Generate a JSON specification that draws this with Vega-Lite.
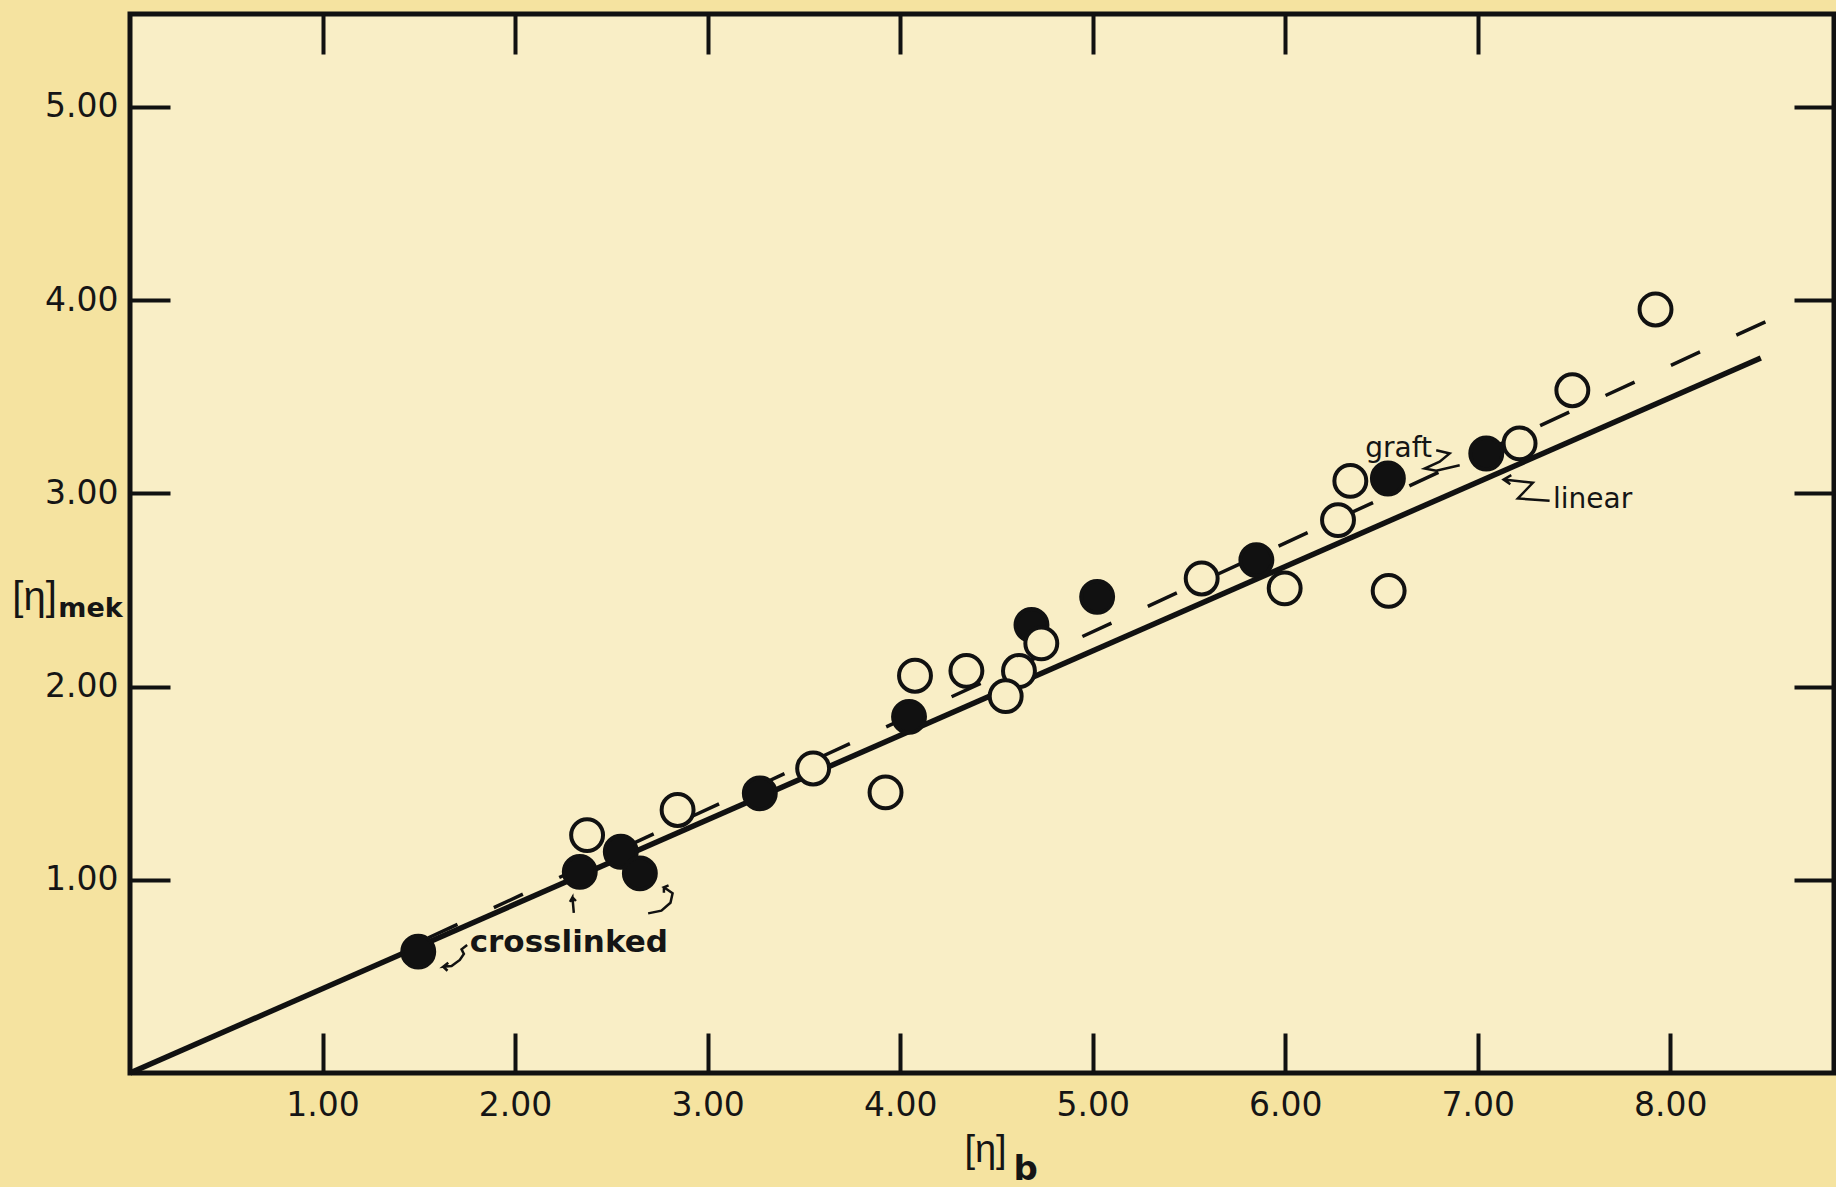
{
  "$schema": "https://vega.github.io/schema/vega-lite/v6.json",
  "width": 1704,
  "height": 1059,
  "autosize": "none",
  "padding": {"left": 130, "top": 14, "right": 2, "bottom": 114},
  "background": "#f5e3a0",
  "config": {
    "view": {"fill": "#f9eec6", "stroke": "#111111", "strokeWidth": 5},
    "axis": {
      "domain": false,
      "grid": false,
      "tickColor": "#111111",
      "tickWidth": 4,
      "tickSize": -40,
      "labelColor": "#151515",
      "labelFont": "DejaVu Sans",
      "labelFontSize": 33,
      "titleColor": "#151515",
      "titleFont": "Liberation Sans",
      "titleFontSize": 40,
      "titleFontWeight": "normal"
    }
  },
  "datasets": {
    "solid": [{"x": 0, "y": 0}, {"x": 8.47, "y": 3.70}],
    "dashed": [{"x": 1.55, "y": 0.70}, {"x": 8.5, "y": 3.89}],
    "points": [
      {"x": 2.374, "y": 1.231, "type": "open"},
      {"x": 2.844, "y": 1.361, "type": "open"},
      {"x": 3.548, "y": 1.576, "type": "open"},
      {"x": 3.924, "y": 1.452, "type": "open"},
      {"x": 4.077, "y": 2.056, "type": "open"},
      {"x": 4.344, "y": 2.081, "type": "open"},
      {"x": 4.617, "y": 2.080, "type": "open"},
      {"x": 4.548, "y": 1.950, "type": "open"},
      {"x": 5.566, "y": 2.559, "type": "open"},
      {"x": 5.997, "y": 2.508, "type": "open"},
      {"x": 6.537, "y": 2.495, "type": "open"},
      {"x": 6.274, "y": 2.861, "type": "open"},
      {"x": 6.338, "y": 3.064, "type": "open"},
      {"x": 7.217, "y": 3.258, "type": "open"},
      {"x": 7.491, "y": 3.533, "type": "open"},
      {"x": 7.923, "y": 3.951, "type": "open"},
      {"x": 1.497, "y": 0.628, "type": "filled"},
      {"x": 2.336, "y": 1.041, "type": "filled"},
      {"x": 2.549, "y": 1.145, "type": "filled"},
      {"x": 2.648, "y": 1.033, "type": "filled"},
      {"x": 3.271, "y": 1.447, "type": "filled"},
      {"x": 4.046, "y": 1.843, "type": "filled"},
      {"x": 4.682, "y": 2.318, "type": "filled"},
      {"x": 5.023, "y": 2.464, "type": "filled"},
      {"x": 5.850, "y": 2.654, "type": "filled"},
      {"x": 6.533, "y": 3.076, "type": "filled"},
      {"x": 7.044, "y": 3.206, "type": "filled"},
      {"x": 4.733, "y": 2.223, "type": "open"}
    ],
    "arrows": [
      {"id": "A", "seq": 0, "x": 1.751, "y": 0.662},
      {"id": "A", "seq": 1, "x": 1.722, "y": 0.640},
      {"id": "A", "seq": 2, "x": 1.734, "y": 0.616},
      {"id": "A", "seq": 3, "x": 1.713, "y": 0.585},
      {"id": "A", "seq": 4, "x": 1.670, "y": 0.554},
      {"id": "A", "seq": 5, "x": 1.627, "y": 0.550},
      {"id": "A", "seq": 6, "x": 1.653, "y": 0.571},
      {"id": "A", "seq": 7, "x": 1.627, "y": 0.550},
      {"id": "A", "seq": 8, "x": 1.649, "y": 0.529},
      {"id": "B", "seq": 0, "x": 2.305, "y": 0.829},
      {"id": "B", "seq": 1, "x": 2.298, "y": 0.909},
      {"id": "B", "seq": 2, "x": 2.285, "y": 0.886},
      {"id": "B", "seq": 3, "x": 2.298, "y": 0.909},
      {"id": "B", "seq": 4, "x": 2.316, "y": 0.890},
      {"id": "C", "seq": 0, "x": 2.691, "y": 0.826},
      {"id": "C", "seq": 1, "x": 2.760, "y": 0.840},
      {"id": "C", "seq": 2, "x": 2.807, "y": 0.881},
      {"id": "C", "seq": 3, "x": 2.818, "y": 0.930},
      {"id": "C", "seq": 4, "x": 2.773, "y": 0.961},
      {"id": "C", "seq": 5, "x": 2.797, "y": 0.971},
      {"id": "C", "seq": 6, "x": 2.773, "y": 0.961},
      {"id": "C", "seq": 7, "x": 2.773, "y": 0.933},
      {"id": "D", "seq": 0, "x": 6.784, "y": 3.223},
      {"id": "D", "seq": 1, "x": 6.854, "y": 3.206},
      {"id": "D", "seq": 2, "x": 6.802, "y": 3.163},
      {"id": "D", "seq": 3, "x": 6.724, "y": 3.128},
      {"id": "D", "seq": 4, "x": 6.784, "y": 3.116},
      {"id": "D", "seq": 5, "x": 6.906, "y": 3.145},
      {"id": "E", "seq": 0, "x": 7.174, "y": 3.094},
      {"id": "E", "seq": 1, "x": 7.134, "y": 3.071},
      {"id": "E", "seq": 2, "x": 7.169, "y": 3.047},
      {"id": "E", "seq": 3, "x": 7.134, "y": 3.071},
      {"id": "E", "seq": 4, "x": 7.286, "y": 3.054},
      {"id": "E", "seq": 5, "x": 7.208, "y": 2.973},
      {"id": "E", "seq": 6, "x": 7.373, "y": 2.961}
    ]
  },
  "layer": [
    {
      "data": {"name": "solid"},
      "mark": {"type": "line", "color": "#111111", "strokeWidth": 5.5, "strokeCap": "butt"},
      "encoding": {
        "x": {"field": "x", "type": "quantitative", "scale": {"domain": [0, 8.85], "nice": false, "zero": false},
          "axis": {"orient": "bottom", "values": [1, 2, 3, 4, 5, 6, 7, 8], "format": ".2f", "labelPadding": 56, "labelDx": 8,
            "title": "[η]", "titleX": 855, "titleY": 77, "titleAlign": "center", "titleBaseline": "middle", "titleFontSize": 38}},
        "y": {"field": "y", "type": "quantitative", "scale": {"domain": [0, 5.48], "nice": false, "zero": false},
          "axis": {"orient": "left", "values": [1, 2, 3, 4, 5], "format": ".2f", "labelPadding": 52, "labelDy": 4,
            "title": "[η]", "titleAngle": 0, "titleX": -96, "titleY": 583, "titleAlign": "center", "titleBaseline": "middle"}}
      }
    },
    {
      "data": {"name": "dashed"},
      "mark": {"type": "line", "color": "#111111", "strokeWidth": 3.5, "strokeDash": [32, 40], "strokeCap": "butt"},
      "encoding": {
        "x": {"field": "x", "type": "quantitative", "scale": {"domain": [0, 8.85], "nice": false, "zero": false},
          "axis": {"orient": "top", "values": [1, 2, 3, 4, 5, 6, 7], "labels": false, "title": null}},
        "y": {"field": "y", "type": "quantitative", "scale": {"domain": [0, 5.48], "nice": false, "zero": false},
          "axis": {"orient": "right", "values": [1, 2, 3, 4, 5], "labels": false, "title": null}}
      }
    },
    {
      "data": {"name": "arrows"},
      "mark": {"type": "line", "color": "#111111", "strokeWidth": 2.5},
      "encoding": {
        "x": {"field": "x", "type": "quantitative", "scale": {"domain": [0, 8.85], "nice": false, "zero": false}, "axis": null},
        "y": {"field": "y", "type": "quantitative", "scale": {"domain": [0, 5.48], "nice": false, "zero": false}, "axis": null},
        "detail": {"field": "id"},
        "order": {"field": "seq", "type": "quantitative"}
      }
    },
    {
      "data": {"name": "points"},
      "mark": {"type": "point", "shape": "circle", "filled": true, "size": 1018, "stroke": "#111111", "strokeWidth": 4, "opacity": 1, "fillOpacity": 1, "strokeOpacity": 1},
      "encoding": {
        "x": {"field": "x", "type": "quantitative", "scale": {"domain": [0, 8.85], "nice": false, "zero": false}, "axis": null},
        "y": {"field": "y", "type": "quantitative", "scale": {"domain": [0, 5.48], "nice": false, "zero": false}, "axis": null},
        "fill": {"field": "type", "type": "nominal", "scale": {"domain": ["open", "filled"], "range": ["#f9eec6", "#111111"]}, "legend": null}
      }
    },
    {
      "data": {"values": [{"label": "crosslinked", "x": 2.279, "y": 0.628}]},
      "mark": {"type": "text", "font": "DejaVu Sans", "fontWeight": "bold", "fontSize": 31, "color": "#151515", "align": "center", "baseline": "alphabetic"},
      "encoding": {
        "x": {"field": "x", "type": "quantitative", "scale": {"domain": [0, 8.85], "nice": false, "zero": false}, "axis": null},
        "y": {"field": "y", "type": "quantitative", "scale": {"domain": [0, 5.48], "nice": false, "zero": false}, "axis": null},
        "text": {"field": "label"}
      }
    },
    {
      "data": {"values": [{"label": "graft", "x": 6.589, "y": 3.188}, {"label": "linear", "x": 7.596, "y": 2.926}]},
      "mark": {"type": "text", "font": "DejaVu Sans", "fontSize": 28, "color": "#151515", "align": "center", "baseline": "alphabetic"},
      "encoding": {
        "x": {"field": "x", "type": "quantitative", "scale": {"domain": [0, 8.85], "nice": false, "zero": false}, "axis": null},
        "y": {"field": "y", "type": "quantitative", "scale": {"domain": [0, 5.48], "nice": false, "zero": false}, "axis": null},
        "text": {"field": "label"}
      }
    },
    {
      "data": {"values": [{"label": "mek", "x": -0.205, "y": 2.359}]},
      "mark": {"type": "text", "font": "DejaVu Sans", "fontWeight": "bold", "fontSize": 27, "color": "#151515", "align": "center", "baseline": "alphabetic"},
      "encoding": {
        "x": {"field": "x", "type": "quantitative", "scale": {"domain": [0, 8.85], "nice": false, "zero": false}, "axis": null},
        "y": {"field": "y", "type": "quantitative", "scale": {"domain": [0, 5.48], "nice": false, "zero": false}, "axis": null},
        "text": {"field": "label"}
      }
    },
    {
      "data": {"values": [{"label": "b", "x": 4.652, "y": -0.554}]},
      "mark": {"type": "text", "font": "DejaVu Sans", "fontWeight": "bold", "fontSize": 34, "color": "#151515", "align": "center", "baseline": "alphabetic"},
      "encoding": {
        "x": {"field": "x", "type": "quantitative", "scale": {"domain": [0, 8.85], "nice": false, "zero": false}, "axis": null},
        "y": {"field": "y", "type": "quantitative", "scale": {"domain": [0, 5.48], "nice": false, "zero": false}, "axis": null},
        "text": {"field": "label"}
      }
    }
  ],
  "resolve": {"axis": {"x": "independent", "y": "independent"}}
}
